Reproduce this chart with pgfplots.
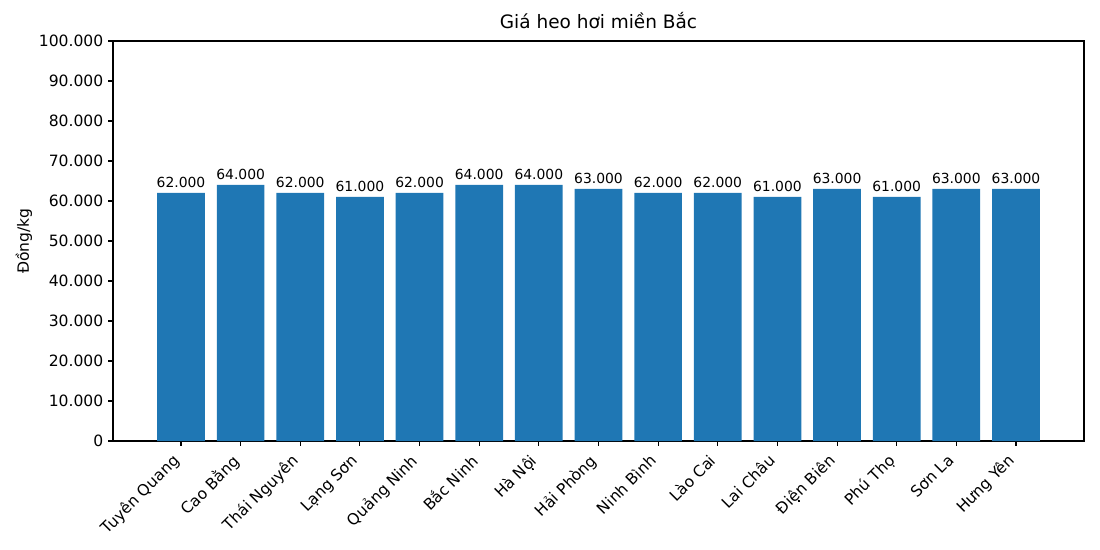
\documentclass[border=0pt]{standalone}
\usepackage{pgfplots}
\pgfplotsset{compat=1.18}
\usepackage{fontspec}
\setmainfont{DejaVu Sans}
\definecolor{tabblue}{HTML}{1F77B4}
\begin{document}
\begin{tikzpicture}
\path[use as bounding box] (-81.36pt,-78.48pt) rectangle (710.64pt,317.52pt);
\begin{axis}[
  at={(0,0)}, anchor=south west,
  scale only axis, width=699.1pt, height=288pt,
  xmin=-1.14, xmax=15.14, ymin=0, ymax=100000,
  xtick={0,...,14},
  xticklabels={Tuyên Quang, Cao Bằng, Thái Nguyên, Lạng Sơn, Quảng Ninh, Bắc Ninh, Hà Nội, Hải Phòng, Ninh Bình, Lào Cai, Lai Châu, Điện Biên, Phú Thọ, Sơn La, Hưng Yên},
  xticklabel style={xshift=-7pt, yshift=-5pt, rotate=45, anchor=north east, font=\fontsize{11.2}{13}\selectfont, inner sep=0pt},
  ytick={0,10000,...,100000},
  scaled y ticks=false,
  yticklabel style={font=\fontsize{11.2}{13}\selectfont, /pgf/number format/.cd, fixed, 1000 sep={.}, assume math mode=true},
  /pgf/number format/assume math mode=true,
  tick align=outside, tick pos=left,
  major tick length=3.5pt,
  tick style={black, line width=0.8pt},
  axis line style={line width=0.8pt},
  title={Giá heo hơi miền Bắc},
  title style={font=\fontsize{13.3}{15}\selectfont, yshift=-1pt},
  ylabel={Đồng/kg},
  ylabel style={font=\fontsize{11.2}{13}\selectfont, yshift=-2pt},
  nodes near coords,
  nodes near coords style={font=\fontsize{10}{12}\selectfont, /pgf/number format/.cd, fixed, 1000 sep={.}, assume math mode=true},
]
\addplot[ybar, bar width=0.8, fill=tabblue, draw=none, bar shift=0pt] coordinates {
(0,62000) (1,64000) (2,62000) (3,61000) (4,62000) (5,64000) (6,64000) (7,63000)
(8,62000) (9,62000) (10,61000) (11,63000) (12,61000) (13,63000) (14,63000)};
\end{axis}
\end{tikzpicture}
\end{document}
